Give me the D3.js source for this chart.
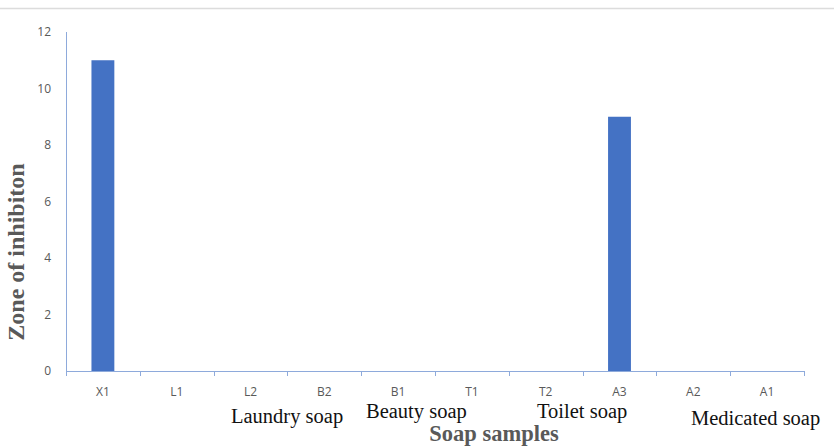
<!DOCTYPE html>
<html>
<head>
<meta charset="utf-8">
<script src="https://cdn.jsdelivr.net/npm/d3@7"></script>
<style>
  body { margin: 0; background: #fff; }
</style>
</head>
<body>
<div id="chart"></div>
<script>
// data
var samples = ["X1", "L1", "L2", "B2", "B1", "T1", "T2", "A3", "A2", "A1"];
var zone = [11, 0, 0, 0, 0, 0, 0, 9, 0, 0];
var yTicks = [0, 2, 4, 6, 8, 10, 12];
var groupNames = ["Laundry soap", "Beauty soap", "Toilet soap", "Medicated soap"];

var width = 834, height = 446;
var plotLeft = 66, plotRight = 804, plotTop = 32, plotBottom = 371;

var svg = d3.select("#chart").append("svg")
    .attr("width", width)
    .attr("height", height);

// thin grey line across the top
svg.append("line")
    .attr("x1", 0).attr("x2", width)
    .attr("y1", 8.5).attr("y2", 8.5)
    .attr("stroke", "#dcdcdc")
    .attr("stroke-width", 1.5);

var x = d3.scaleBand().domain(samples).range([plotLeft, plotRight]).paddingInner(0.69).paddingOuter(0.345);
var xb = d3.scaleBand().domain(samples).range([plotLeft, plotRight]);
var y = d3.scaleLinear().domain([0, 12]).range([plotBottom, plotTop]);

var axisColor = "#8eaadb";

// bars
svg.selectAll("rect.bar")
    .data(samples)
    .enter()
    .append("rect")
    .attr("class", "bar")
    .attr("x", function(d){ return x(d); })
    .attr("width", x.bandwidth())
    .attr("y", function(d, i){ return y(zone[i]); })
    .attr("height", function(d, i){ return y(0) - y(zone[i]); })
    .attr("fill", "#4472c4");

// y axis: line + labels only
svg.append("line")
    .attr("x1", plotLeft + 0.5).attr("x2", plotLeft + 0.5)
    .attr("y1", y(12)).attr("y2", y(0))
    .attr("stroke", axisColor)
    .attr("stroke-width", 1);

svg.selectAll("text.ytick")
    .data(yTicks)
    .enter()
    .append("text")
    .attr("class", "ytick")
    .attr("x", 51)
    .attr("y", function(d){ return y(d) + 4; })
    .attr("text-anchor", "end")
    .attr("font-family", "Open Sans, Liberation Sans, sans-serif")
    .attr("font-size", "12px")
    .attr("fill", "#595959")
    .text(function(d){ return d; });

// x axis
var xAxis = d3.axisBottom(xb).tickSize(0).tickFormat("");
svg.append("g")
    .attr("transform", "translate(0," + (plotBottom + 0.5) + ")")
    .call(xAxis)
    .call(function(g){ g.select(".domain").attr("stroke", axisColor).attr("d", "M" + plotLeft + ",0H" + plotRight); });

// tick marks at band boundaries
var bounds = samples.map(function(d){ return xb(d); }).concat([plotRight]);
svg.selectAll("line.xtick")
    .data(bounds)
    .enter()
    .append("line")
    .attr("class", "xtick")
    .attr("x1", function(d){ return Math.round(d) + 0.5; })
    .attr("x2", function(d){ return Math.round(d) + 0.5; })
    .attr("y1", plotBottom)
    .attr("y2", plotBottom + 5)
    .attr("stroke", axisColor);

svg.selectAll("text.xtick")
    .data(samples)
    .enter()
    .append("text")
    .attr("class", "xtick")
    .attr("x", function(d){ return xb(d) + xb.bandwidth() / 2; })
    .attr("y", 396)
    .attr("text-anchor", "middle")
    .attr("font-family", "Open Sans, Liberation Sans, sans-serif")
    .attr("font-size", "12px")
    .attr("fill", "#595959")
    .text(function(d){ return d; });

// soap group labels (placed by hand in the original)
var groupPos = [[231, 423], [366, 418], [537, 418], [691, 425]];
svg.selectAll("text.group")
    .data(groupNames)
    .enter()
    .append("text")
    .attr("class", "group")
    .attr("x", function(d, i){ return groupPos[i][0]; })
    .attr("y", function(d, i){ return groupPos[i][1]; })
    .attr("font-family", "Liberation Serif, Times New Roman, serif")
    .attr("font-size", "20.5px")
    .attr("fill", "#111")
    .text(function(d){ return d; });

// axis titles
svg.append("text")
    .attr("x", 494)
    .attr("y", 441)
    .attr("text-anchor", "middle")
    .attr("font-family", "Liberation Serif, Times New Roman, serif")
    .attr("font-weight", "bold")
    .attr("font-size", "22.5px")
    .attr("fill", "#595959")
    .text("Soap samples");

svg.append("text")
    .attr("transform", "translate(24,252) rotate(-90)")
    .attr("text-anchor", "middle")
    .attr("font-family", "Liberation Serif, Times New Roman, serif")
    .attr("font-weight", "bold")
    .attr("font-size", "24px")
    .attr("fill", "#595959")
    .text("Zone of inhibiton");
</script>
</body>
</html>
